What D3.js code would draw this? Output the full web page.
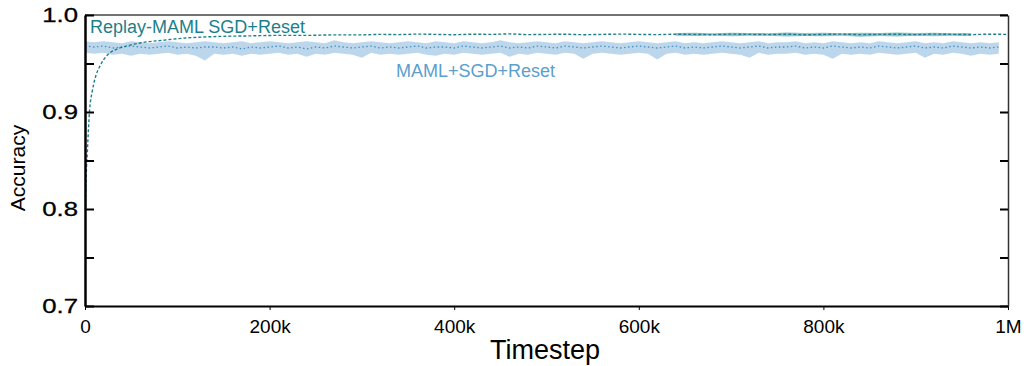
<!DOCTYPE html>
<html><head><meta charset="utf-8">
<script src="https://cdn.jsdelivr.net/npm/d3@7"></script>
<style>body{margin:0;background:#fff}svg{display:block}text{font-family:"Liberation Sans",Arial,sans-serif}</style>
</head><body><svg id="c" width="1024" height="366"></svg>
<script>
// ---- data ----
const yTicks = [0.7, 0.75, 0.8, 0.85, 0.9, 0.95, 1.0];
const yTickLabels = ["0.7", "", "0.8", "", "0.9", "", "1.0"];
const xTicks = [0, 200000, 400000, 600000, 800000, 1000000];
const xTickLabels = ["0", "200k", "400k", "600k", "800k", "1M"];

const mamlStepsK = [0,10,20,30,40,50,60,70,80,90,100,110,120,130,140,150,160,170,180,190,
  200,210,220,230,240,250,260,270,280,290,300,310,320,330,340,350,360,370,380,390,
  400,410,420,430,440,450,460,470,480,490,500,510,520,530,540,550,560,570,580,590,
  600,610,620,630,640,650,660,670,680,690,700,710,720,730,740,750,760,770,780,790,
  800,810,820,830,840,850,860,870,880,890,900,910,920,930,940,950,960,970,980,990];
const mamlMean = [0.968,0.967,0.968,0.966,0.967,0.968,0.967,0.966,0.967,0.968,
  0.966,0.967,0.966,0.967,0.967,0.966,0.967,0.965,0.967,0.966,
  0.967,0.968,0.966,0.967,0.965,0.967,0.966,0.968,0.967,0.966,
  0.967,0.968,0.966,0.967,0.966,0.967,0.968,0.966,0.967,0.967,
  0.966,0.968,0.967,0.966,0.967,0.968,0.966,0.967,0.966,0.968,
  0.967,0.966,0.968,0.967,0.966,0.967,0.968,0.967,0.966,0.967,
  0.968,0.967,0.966,0.967,0.968,0.966,0.967,0.966,0.967,0.968,
  0.967,0.966,0.967,0.968,0.966,0.967,0.967,0.968,0.966,0.967,
  0.966,0.968,0.967,0.966,0.967,0.966,0.968,0.967,0.966,0.967,
  0.968,0.966,0.967,0.966,0.968,0.967,0.966,0.967,0.966,0.967];
const mamlHi = [0.973,0.972,0.973,0.972,0.971,0.973,0.972,0.971,0.972,0.973,
  0.972,0.971,0.972,0.973,0.972,0.971,0.972,0.973,0.971,0.972,
  0.973,0.972,0.971,0.972,0.973,0.972,0.971,0.974,0.972,0.971,
  0.972,0.973,0.972,0.971,0.972,0.973,0.972,0.971,0.973,0.972,
  0.971,0.973,0.972,0.971,0.972,0.974,0.972,0.971,0.972,0.973,
  0.972,0.971,0.973,0.972,0.971,0.972,0.973,0.972,0.971,0.972,
  0.973,0.972,0.971,0.972,0.973,0.971,0.972,0.971,0.972,0.973,
  0.972,0.971,0.972,0.973,0.971,0.972,0.972,0.973,0.971,0.972,
  0.971,0.973,0.972,0.971,0.972,0.971,0.973,0.972,0.971,0.972,
  0.973,0.971,0.972,0.971,0.973,0.972,0.971,0.972,0.971,0.972];
const mamlLo = [0.961,0.960,0.961,0.959,0.960,0.958,0.960,0.959,0.960,0.961,
  0.959,0.960,0.958,0.953,0.960,0.959,0.960,0.958,0.960,0.959,
  0.960,0.961,0.959,0.960,0.957,0.960,0.959,0.961,0.960,0.959,
  0.956,0.961,0.959,0.960,0.959,0.960,0.961,0.959,0.958,0.960,
  0.959,0.961,0.960,0.959,0.960,0.961,0.957,0.960,0.959,0.961,
  0.960,0.959,0.961,0.960,0.955,0.960,0.961,0.960,0.959,0.960,
  0.961,0.960,0.954,0.960,0.961,0.959,0.960,0.959,0.960,0.961,
  0.960,0.959,0.956,0.961,0.959,0.960,0.960,0.961,0.959,0.960,
  0.959,0.955,0.960,0.959,0.960,0.959,0.961,0.960,0.959,0.960,
  0.961,0.956,0.960,0.959,0.961,0.960,0.958,0.960,0.959,0.960];

const replayStepsK = [0,1,2.5,5,8,11,16,21,27,35,49,65,85,105,121,150,180,210,240,270,
  300,320,340,360,380,400,420,440,460,480,500,520,540,560,580,600,620,640,660,680,
  700,720,740,760,780,800,820,840,860,880,900,920,940,960,980,1000];
const replayMean = [0.776,0.825,0.858,0.902,0.922,0.935,0.947,0.955,0.961,0.965,
  0.969,0.972,0.974,0.976,0.977,0.978,0.9785,0.979,0.979,0.9795,
  0.9795,0.980,0.9798,0.9803,0.980,0.9797,0.9802,0.980,0.9805,0.9798,
  0.980,0.9802,0.9797,0.980,0.9803,0.980,0.9798,0.9802,0.980,0.9797,
  0.9803,0.980,0.9798,0.9802,0.9796,0.980,0.9803,0.9798,0.980,0.9802,
  0.9797,0.9803,0.980,0.9798,0.9802,0.980];
const replayBandStepsK = [640,660,680,700,720,740,760,780,800,820,840,860,880,900,920,940,960];
const replayBandHi = [0.9814,0.9817,0.9812,0.9818,0.9815,0.9813,0.9819,0.9814,0.9817,0.9812,0.9818,0.9815,0.9820,0.9814,0.9817,0.9813,0.9815];
const replayBandLo = [0.9786,0.9783,0.9788,0.9781,0.9785,0.9787,0.9778,0.9784,0.9782,0.9787,0.9777,0.9784,0.9779,0.9785,0.9782,0.9787,0.9784];

const labelReplay = "Replay-MAML SGD+Reset";
const labelMaml = "MAML+SGD+Reset";
const xTitle = "Timestep";
const yTitle = "Accuracy";

// ---- drawing ----
const svg = d3.select("#c");
const L = 85, R = 1008, T = 15, B = 306;
const x = d3.scaleLinear().domain([0, 1000000]).range([L, R]);
const y = d3.scaleLinear().domain([0.7, 1.0]).range([B, T]);

const teal = "#1d7f8b", blue = "#5b9fcc";

const maml = mamlStepsK.map((s, i) => ({s: s * 1000, m: mamlMean[i], lo: mamlLo[i], hi: mamlHi[i]}));
const replay = replayStepsK.map((s, i) => ({s: s * 1000, m: replayMean[i]}));
const rband = replayBandStepsK.map((s, i) => ({s: s * 1000, lo: replayBandLo[i], hi: replayBandHi[i]}));

svg.append("clipPath").attr("id", "pc").append("rect")
  .attr("x", L).attr("y", T).attr("width", R - L).attr("height", B - T);
const g = svg.append("g").attr("clip-path", "url(#pc)");

g.append("path").datum(maml)
  .attr("d", d3.area().x(d => x(d.s)).y0(d => y(d.lo)).y1(d => y(d.hi)))
  .attr("fill", "#b8d4ea").attr("fill-opacity", 0.95);
g.append("path").datum(rband)
  .attr("d", d3.area().x(d => x(d.s)).y0(d => y(d.lo)).y1(d => y(d.hi)))
  .attr("fill", "#6fb0b7").attr("fill-opacity", 0.75);
g.append("path").datum(maml)
  .attr("d", d3.line().x(d => x(d.s)).y(d => y(d.m)))
  .attr("fill", "none").attr("stroke", "#4a8fc2").attr("stroke-width", 1.3)
  .attr("stroke-dasharray", "1.5,2.5");
g.append("path").datum(replay)
  .attr("d", d3.line().curve(d3.curveMonotoneX).x(d => x(d.s)).y(d => y(d.m)))
  .attr("fill", "none").attr("stroke", teal).attr("stroke-width", 1.4)
  .attr("stroke-dasharray", "3,2");

// axes
svg.append("line").attr("x1", L).attr("x2", R).attr("y1", T).attr("y2", T)
  .attr("stroke", "#444").attr("stroke-width", 1.5);

const ax = svg.append("g").attr("transform", `translate(0,${B})`)
  .call(d3.axisBottom(x).tickValues(xTicks).tickFormat((d, i) => xTickLabels[i])
    .tickSizeInner(4).tickSizeOuter(0).tickPadding(10));
ax.selectAll("text").attr("font-size", 19).attr("fill", "#000").attr("font-family", null);
ax.select(".domain").attr("stroke-width", 2);

const ayR = svg.append("g").attr("transform", `translate(${R},0)`)
  .call(d3.axisRight(y).tickValues(yTicks).tickFormat("").tickSizeInner(-8).tickSizeOuter(0));
ayR.select(".domain").attr("stroke", "#333").attr("stroke-width", 1.5);
ayR.selectAll(".tick line").attr("stroke-width", 2);

const ay = svg.append("g").attr("transform", `translate(${L},0)`)
  .call(d3.axisLeft(y).tickValues(yTicks).tickFormat((d, i) => yTickLabels[i])
    .tickSizeInner(-9).tickSizeOuter(0).tickPadding(7));
ay.select(".domain").attr("stroke-width", 2.5);
ay.selectAll(".tick line").attr("stroke-width", 2);
ay.selectAll("text").attr("font-size", 19.5).attr("fill", "#000").attr("font-family", null)
  .attr("stroke", "#000").attr("stroke-width", 0.3)
  .attr("x", 0).attr("transform", "translate(-7,0) scale(1.32,1)");

// series labels
svg.append("text").attr("x", 90).attr("y", 33).attr("font-size", 18).attr("fill", teal).text(labelReplay);
svg.append("text").attr("x", 396).attr("y", 77).attr("font-size", 18).attr("fill", blue).text(labelMaml);

// titles
svg.append("text").attr("x", 545).attr("y", 359).attr("text-anchor", "middle")
  .attr("font-size", 27).attr("fill", "#000").text(xTitle);
svg.append("text").attr("transform", "translate(25,168) rotate(-90)").attr("text-anchor", "middle")
  .attr("font-size", 21).attr("fill", "#000").text(yTitle);
</script></body></html>
